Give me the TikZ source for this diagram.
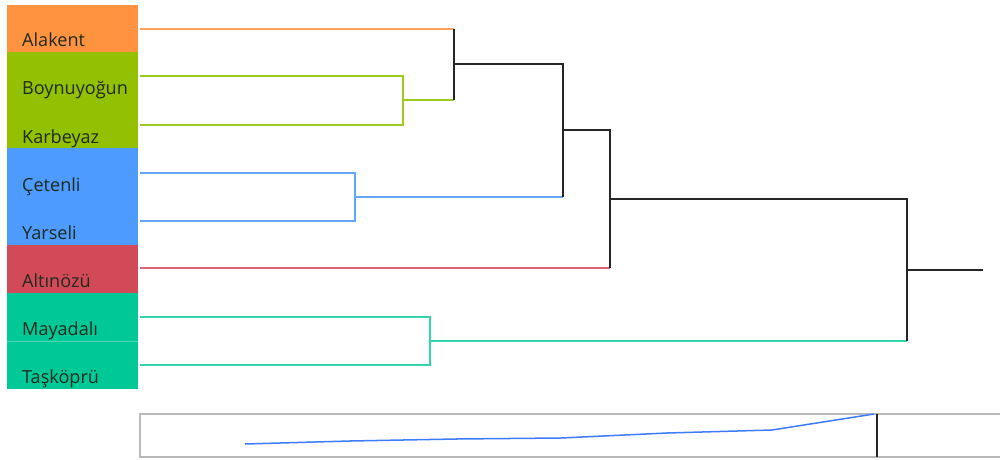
\documentclass[tikz,border=0pt]{standalone}
\usepackage{fontspec}
\setmainfont{Open Sans}
\usepackage{tikz}

\definecolor{corange}{HTML}{FF9340}
\definecolor{cgreen}{HTML}{93C000}
\definecolor{cblue}{HTML}{4D9BFF}
\definecolor{cred}{HTML}{D24A57}
\definecolor{cteal}{HTML}{00C896}
\definecolor{lorange}{HTML}{FFA060}
\definecolor{lgreen}{HTML}{9ACB1E}
\definecolor{lblue}{HTML}{5EA6FF}
\definecolor{lred}{HTML}{DA6474}
\definecolor{lteal}{HTML}{2ED6A8}
\definecolor{ctext}{HTML}{1E2A1E}

\begin{document}
\begin{tikzpicture}[x=0.035cm,y=-0.035cm,
    leaf/.style={anchor=base west,inner sep=0pt,text=ctext,font=\fontsize{18}{20}\selectfont},
    link/.style={line width=1.4pt},
    merge/.style={line width=1.6pt,draw=black!85}]
  \useasboundingbox (0,0) rectangle (1000,459);
  % colour bands
  \foreach \t/\b/\c in {5/52/corange,52/148/cgreen,148/245/cblue,245/293/cred,293/389/cteal} {
    \fill[\c] (7,\t) rectangle (138,\b);
  }
  \draw[white,opacity=0.3] (7,341) -- (138,341);
  % leaves
  \foreach \n/\y/\s in {al/46/Alakent,bo/94/Boynuyoğun,ka/143/Karbeyaz,ce/191/Çetenli,
                         ya/239/Yarseli,at/287/Altınözü,ma/335/Mayadalı,ta/383/Taşköprü} {
    \node[leaf] (\n) at (22,\y) {\s};
  }
  \foreach \n/\y in {al/29,bo/76,ka/125,ce/173,ya/221,at/268,ma/317,ta/365} {
    \coordinate (\n e) at (140,\y);
  }
  % merge points
  \coordinate (m1) at (403,100);
  \coordinate (m2) at (454,64);
  \coordinate (m3) at (563,130);
  \coordinate (m4) at (355,197);
  \coordinate (m5) at (610,199);
  \coordinate (m6) at (430,341);
  \coordinate (m7) at (907,270);
  \coordinate (root) at (983,270);
  % coloured clusters
  \draw[link,lgreen] (boe) -| (m1) |- (kae);
  \draw[link,lgreen] (m1) -- (m1 -| m2);
  \draw[link,lorange] (ale) -- (ale -| m2);
  \draw[link,lblue] (cee) -| (m4) |- (yae);
  \draw[link,lblue] (m4) -- (m4 -| m3);
  \draw[link,lred] (ate) -- (ate -| m5);
  \draw[link,lteal] (mae) -| (m6) |- (tae);
  \draw[link,lteal] (m6) -- (m6 -| m7);
  % black joins
  \draw[merge] (ale -| m2) -- (m1 -| m2);
  \draw[merge] (m2) -| (m3);
  \draw[merge] (m3) |- (m4 -| m3);
  \draw[merge] (m3) -| (m5);
  \draw[merge] (m5) |- (ate -| m5);
  \draw[merge] (m5) -| (m7);
  \draw[merge] (m7) |- (m6 -| m7);
  \draw[merge] (m7) -- (root);
  % overview strip
  \draw[gray!55,line width=1.8pt] (1000,414) -- (140,414) -- (140,457) -- (1000,457);
  \draw[line width=1.8pt,black!85] (877,414) -- (877,457);
  \draw[cblue!80!blue,line width=1.5pt]
    (245,444) -- (350,441) -- (456,439) -- (561,438) -- (667,433) -- (772,430) -- (874,414);
\end{tikzpicture}
\end{document}
